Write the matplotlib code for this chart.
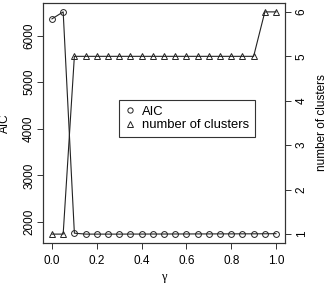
import matplotlib
matplotlib.use("Agg")
import matplotlib.pyplot as plt
from matplotlib.lines import Line2D

# data
gamma = [0.00, 0.05, 0.10, 0.15, 0.20, 0.25, 0.30, 0.35, 0.40, 0.45, 0.50,
         0.55, 0.60, 0.65, 0.70, 0.75, 0.80, 0.85, 0.90, 0.95, 1.00]
aic = [6360, 6510, 1758, 1738, 1738, 1738, 1738, 1739, 1739, 1740, 1740,
       1741, 1741, 1742, 1742, 1743, 1743, 1744, 1744, 1745, 1747]
n_clusters = [1, 1, 5, 5, 5, 5, 5, 5, 5, 5, 5,
              5, 5, 5, 5, 5, 5, 5, 5, 6, 6]
x_ticks = [0.0, 0.2, 0.4, 0.6, 0.8, 1.0]
aic_ticks = [2000, 3000, 4000, 5000, 6000]
cl_ticks = [1, 2, 3, 4, 5, 6]

plt.rcParams["font.family"] = ["Liberation Sans", "DejaVu Sans"]

W, H = 329, 286
fig = plt.figure(figsize=(W / 100, H / 100), dpi=100)
left, right, top, bottom = 43, 285, 3, 243
ax = fig.add_axes([left / W, 1 - bottom / H, (right - left) / W, (bottom - top) / H])
ax2 = ax.twinx()


def r_lim(vals):
    # R style: data range padded by 4% on each side
    lo, hi = min(vals), max(vals)
    pad = 0.04 * (hi - lo)
    return lo - pad, hi + pad


line_kw = dict(color="#222222", lw=0.8, markersize=4.2, markerfacecolor="none",
               markeredgewidth=0.7)
ax.plot(gamma, aic, marker="o", **line_kw)
ax2.plot(gamma, n_clusters, marker="^", **line_kw)

ax.set_xlim(*r_lim(gamma))
ax.set_ylim(*r_lim(aic))
ax2.set_ylim(*r_lim(n_clusters))

ax.set_xticks(x_ticks)
ax.set_xticklabels([f"{v:.1f}" for v in x_ticks])
ax.set_yticks(aic_ticks)
ax2.set_yticks(cl_ticks)

tick_kw = dict(direction="out", length=4.5, width=0.7, color="#333333", labelsize=8.5)
ax.tick_params(axis="x", pad=4, **tick_kw)
ax.tick_params(axis="y", pad=5.5, **tick_kw)
ax2.tick_params(axis="y", pad=7.5, **tick_kw)
for lab in ax.get_yticklabels() + ax2.get_yticklabels():
    lab.set_rotation(90)
    lab.set_va("center")
    lab.set_ha("center")

for a in (ax, ax2):
    for sp in a.spines.values():
        sp.set_linewidth(0.8)
        sp.set_color("#333333")

ax.set_ylabel("AIC", fontsize=8.5, va="center")
ax2.set_ylabel("number of clusters", fontsize=8.5, va="center")
ax.set_xlabel("γ", fontsize=9, family=["Liberation Serif", "DejaVu Serif"], va="center")
ax.yaxis.set_label_coords(-38 / (right - left), 0.5)
ax2.yaxis.set_label_coords(1 + 37 / (right - left), 0.5)
ax.xaxis.set_label_coords(0.5, -34 / (bottom - top))

handles = [
    Line2D([], [], ls="none", marker="o", markersize=3.8, markerfacecolor="none",
           markeredgecolor="#222222", markeredgewidth=0.7),
    Line2D([], [], ls="none", marker="^", markersize=3.8, markerfacecolor="none",
           markeredgecolor="#222222", markeredgewidth=0.7),
]
leg = ax2.legend(handles, ["AIC", "number of clusters"], loc="upper left",
                 bbox_to_anchor=(119 / W, 1 - 100 / H), bbox_transform=fig.transFigure,
                 fontsize=9.4, frameon=True, fancybox=False, edgecolor="#333333",
                 framealpha=1, handlelength=0.8, handletextpad=0.5, borderpad=0.45,
                 labelspacing=0.1, borderaxespad=0)
leg.get_frame().set_linewidth(0.8)

fig.savefig("out.png", dpi=100)
